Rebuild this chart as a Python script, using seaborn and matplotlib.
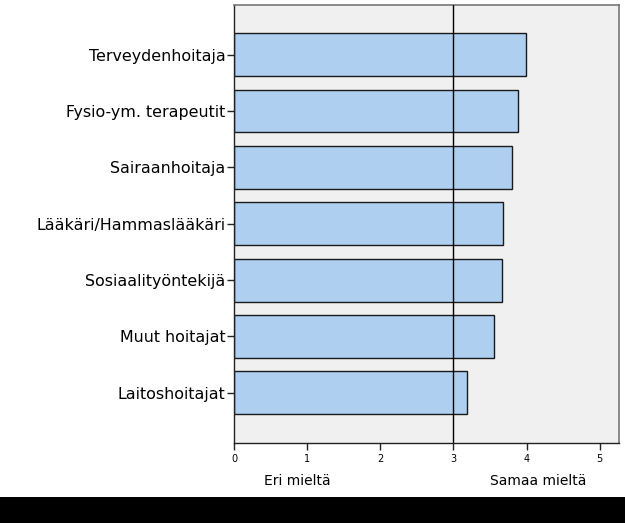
import matplotlib
matplotlib.use("Agg")
import matplotlib.pyplot as plt
import seaborn as sns
import pandas as pd
from matplotlib.patches import Rectangle

categories = ["Terveydenhoitaja", "Fysio-ym. terapeutit", "Sairaanhoitaja",
              "Lääkäri/Hammaslääkäri", "Sosiaalityöntekijä", "Muut hoitajat",
              "Laitoshoitajat"]
values = [3.99, 3.88, 3.80, 3.68, 3.67, 3.56, 3.19]
xticks = [0, 1, 2, 3, 4, 5]

sns.set_style("white")
plt.rcParams['font.family'] = ['DejaVu Sans']
plt.rcParams['text.color'] = 'black'
plt.rcParams['xtick.labelcolor'] = 'black'
plt.rcParams['ytick.labelcolor'] = 'black'

df = pd.DataFrame({"cat": categories, "val": values})

fig = plt.figure(figsize=(6.25, 5.23), dpi=100)
ax = fig.add_axes([234/625, 1-443/523, (618.7-234)/625, (443-5)/523])
ax.set_facecolor("#f0f0f0")

sns.barplot(data=df, x="val", y="cat", orient="h", ax=ax, color="#aecff0",
            saturation=1, width=0.76, edgecolor="#1a1a1a", linewidth=1)

ax.axvline(3, color="black", lw=1, zorder=5)
ax.set_xlim(0, 5.26)
ax.set_ylim(6.89, -0.88)
ax.set_xticks(xticks)
ax.set_xticklabels([str(t) for t in xticks], fontsize=7)
ax.tick_params(axis="y", labelsize=11.4, length=5, width=1, color="#222222", pad=1, left=True)
ax.tick_params(axis="x", length=5, width=1, color="#222222", pad=3, bottom=True)
ax.set_xlabel("")
ax.set_ylabel("")
for s in ["left", "bottom"]:
    ax.spines[s].set_color("#222222")
    ax.spines[s].set_linewidth(1)
for s in ["top", "right"]:
    ax.spines[s].set_color("#777777")
    ax.spines[s].set_linewidth(1.2)

fig.text(297/625, 1-481/523, "Eri mieltä", ha="center", va="center", fontsize=10, color="black")
fig.text(538/625, 1-481/523, "Samaa mieltä", ha="center", va="center", fontsize=10, color="black")

fig.patches.append(Rectangle((0, 0), 1, 26/523, transform=fig.transFigure,
                             facecolor="black", edgecolor="none", zorder=0))

fig.savefig("out.png", dpi=100)
